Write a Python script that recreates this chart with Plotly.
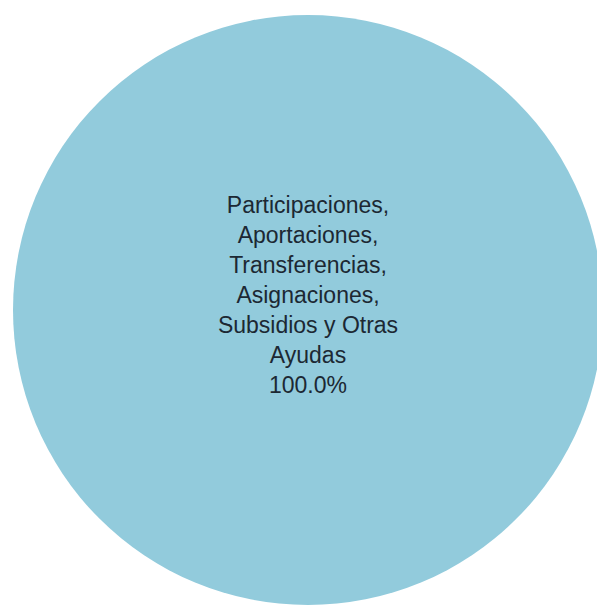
import plotly.graph_objects as go

categories = ["Participaciones, Aportaciones, Transferencias, Asignaciones, Subsidios y Otras Ayudas"]
values = [100.0]
label_lines = [["Participaciones,", "Aportaciones,", "Transferencias,", "Asignaciones,", "Subsidios y Otras", "Ayudas"]]

display_text = ["<br>".join(lines) for lines in label_lines]

W, H = 605, 609
fig = go.Figure(go.Pie(
    labels=categories,
    values=values,
    text=display_text,
    texttemplate="%{text}<br>%{percent:.1%}<br> ",
    textposition="inside",
    insidetextorientation="horizontal",
    sort=False,
    marker=dict(colors=["#92CBDC"], line=dict(width=0)),
    insidetextfont=dict(family="Liberation Sans, Arial, sans-serif", size=23, color="#1c2833"),
    domain=dict(x=[5 / W, 595 / W], y=[12 / H, 602 / H]),
    hoverinfo="label+percent",
    showlegend=False,
))
fig.update_layout(
    width=W, height=H,
    margin=dict(l=0, r=0, t=0, b=0),
    paper_bgcolor="white",
    plot_bgcolor="white",
    showlegend=False,
)
fig.write_html("out.html")
